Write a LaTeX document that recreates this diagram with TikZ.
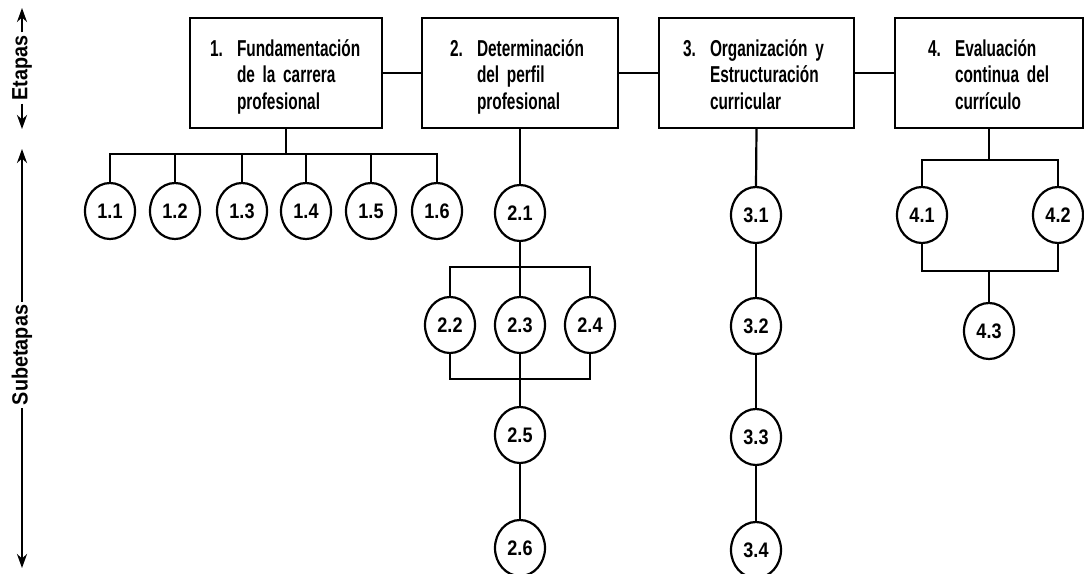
\documentclass[tikz,border=0pt]{standalone}
\usepackage{fontspec}
\setmainfont{Liberation Sans}
\newfontfamily\condfont{Liberation Sans}[UprightFont=* Bold,FakeStretch=0.67]
\newfontfamily\circfont{Liberation Sans}[UprightFont=* Bold,FakeStretch=0.86]
\newfontfamily\axisfont{Liberation Sans}[UprightFont=* Bold,FakeStretch=0.9]
\usetikzlibrary{shapes.geometric,arrows.meta}
\newcommand\stagetxt[4]{\begin{tabular}{@{}p{27pt}@{}l@{}}\rule{0pt}{27pt}#1&#2\\&#3\\&#4\end{tabular}}
\tikzset{
  stagebox/.style={draw, line width=2.2pt, minimum height=110pt, align=left,
    font=\condfont\fontsize{23}{26.5}\selectfont},
  sub/.style={draw, ellipse, line width=2.2pt, minimum width=50pt, minimum height=56pt,
    inner sep=0pt, font=\circfont\fontsize{21}{22}\selectfont},
  conn/.style={line width=2.2pt},
  axislab/.style={rotate=90, font=\axisfont\fontsize{22}{23}\selectfont, inner sep=3pt},
  axarrow/.style={line width=2.8pt, -{Stealth[length=14pt,width=10pt]}},
}
\begin{document}
\begin{tikzpicture}[x=1pt,y=-1pt]
\useasboundingbox (0,0) rectangle (1084,573);
\clip (0,0) rectangle (1084,573);

% stages
\node[stagebox, minimum width=192pt, inner xsep=20pt, text width=152pt] (b1) at (286,73)
  {\stagetxt{1.}{Fundamentación}{de la carrera}{profesional}};
\node[stagebox, minimum width=196pt, inner xsep=28pt, text width=140pt] (b2) at (520,73)
  {\stagetxt{2.}{Determinación}{del perfil}{profesional}};
\node[stagebox, minimum width=195pt, inner xsep=24pt, text width=147pt] (b3) at (756.5,73)
  {\stagetxt{3.}{Organización y}{Estructuración}{curricular}};
\node[stagebox, minimum width=188pt, inner xsep=33pt, text width=122pt] (b4) at (989,73)
  {\stagetxt{4.}{Evaluación}{continua del}{currículo}};

\draw[conn] (b1) -- (b2);
\draw[conn] (b2) -- (b3);
\draw[conn] (b3) -- (b4);

% substages 1
\node[sub] (c11) at (110,211) {1.1};
\node[sub] (c12) at (175,211) {1.2};
\node[sub] (c13) at (242,211) {1.3};
\node[sub] (c14) at (306,211) {1.4};
\node[sub] (c15) at (371,211) {1.5};
\node[sub] (c16) at (437,211) {1.6};
\coordinate (j1) at (286,154);
\draw[conn] (b1.south) -- (j1);
\draw[conn] (c11.north) |- (j1) -| (c16.north);
\draw[conn] (c12.north) -- (c12.north |- j1);
\draw[conn] (c13.north) -- (c13.north |- j1);
\draw[conn] (c14.north) -- (c14.north |- j1);
\draw[conn] (c15.north) -- (c15.north |- j1);

% substages 2
\node[sub] (c21) at (520,213) {2.1};
\node[sub] (c22) at (450,325) {2.2};
\node[sub] (c23) at (520,325) {2.3};
\node[sub] (c24) at (590,325) {2.4};
\node[sub] (c25) at (520,435) {2.5};
\node[sub] (c26) at (520,548) {2.6};
\coordinate (j2) at (520,267);
\coordinate (j3) at (520,379);
\draw[conn] (b2.south) -- (c21.north);
\draw[conn] (c21.south) -- (c23.north);
\draw[conn] (c22.north) |- (j2) -| (c24.north);
\draw[conn] (c22.south) |- (j3) -| (c24.south);
\draw[conn] (c23.south) -- (c25.north);
\draw[conn] (c25.south) -- (c26.north);

% substages 3
\node[sub] (c31) at (756,215) {3.1};
\node[sub] (c32) at (756,326) {3.2};
\node[sub] (c33) at (756,437) {3.3};
\node[sub] (c34) at (756,550) {3.4};
\draw[conn] (b3.south) -- (c31.north);
\draw[conn] (c31.south) -- (c32.north);
\draw[conn] (c32.south) -- (c33.north);
\draw[conn] (c33.south) -- (c34.north);

% substages 4
\node[sub] (c41) at (922,215) {4.1};
\node[sub] (c42) at (1058,215) {4.2};
\node[sub] (c43) at (989,331) {4.3};
\coordinate (j4) at (989,160);
\coordinate (j5) at (989,271);
\draw[conn] (b4.south) -- (j4);
\draw[conn] (c41.north) |- (j4) -| (c42.north);
\draw[conn] (c41.south) |- (j5) -| (c42.south);
\draw[conn] (j5) -- (c43.north);

% axis
\node[axislab] (et) at (22,68) {Etapas};
\coordinate (etTop) at (22,8);
\coordinate (etBot) at (22,129);
\draw[axarrow] (et.east) -- (etTop);
\draw[axarrow] (et.west) -- (etBot);
\node[axislab] (st) at (22,355) {Subetapas};
\coordinate (stTop) at (22,149);
\coordinate (stBot) at (22,568);
\draw[axarrow] (st.east) -- (stTop);
\draw[axarrow] (st.west) -- (stBot);
\end{tikzpicture}
\end{document}
